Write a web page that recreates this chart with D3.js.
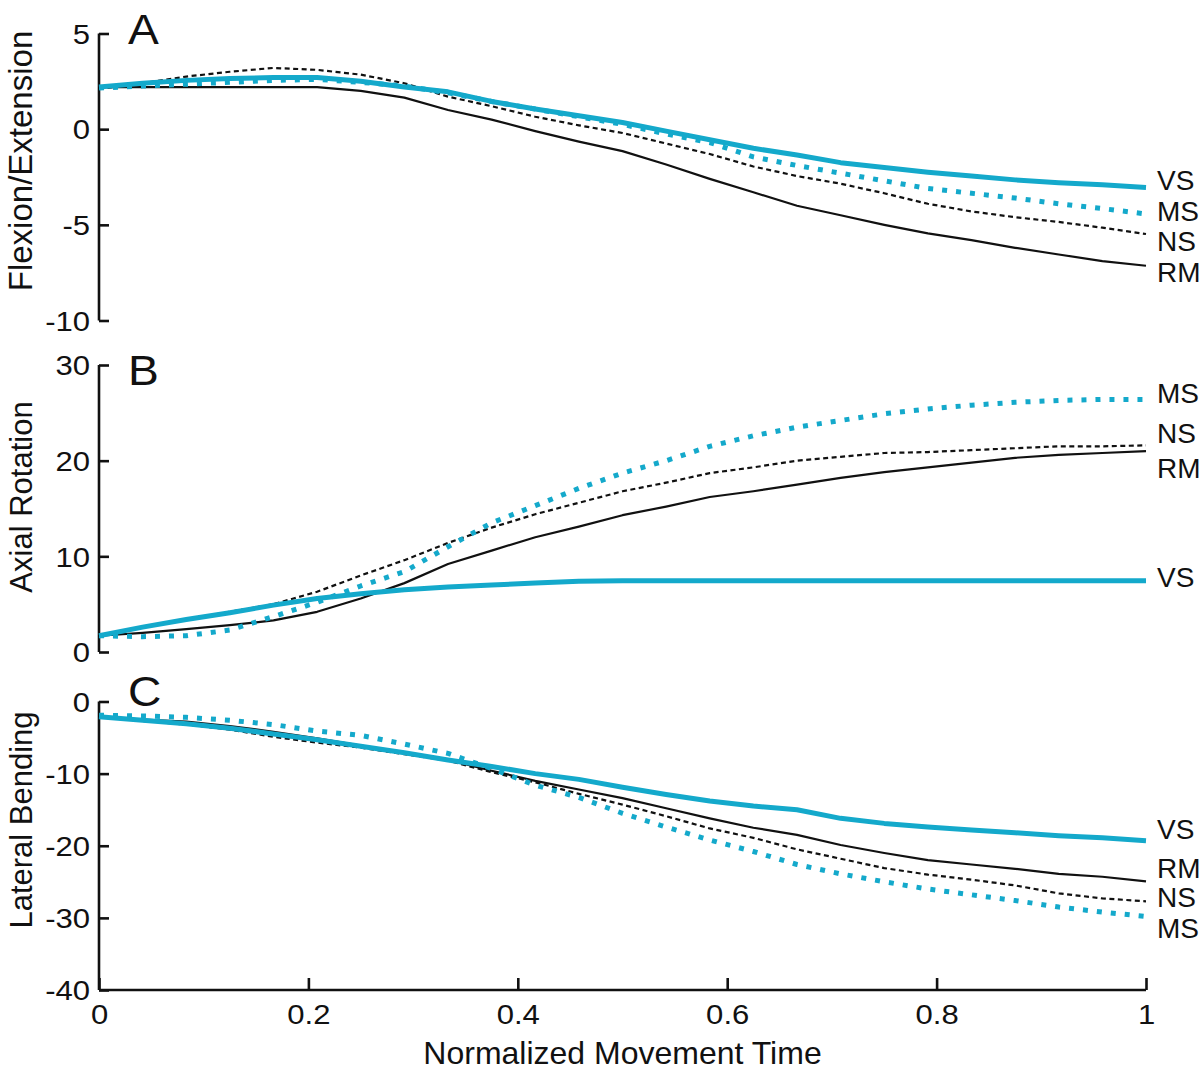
<!DOCTYPE html>
<html>
<head>
<meta charset="utf-8">
<script src="https://cdn.jsdelivr.net/npm/d3@7"></script>
<style>
  html, body { margin: 0; padding: 0; background: #fff; }
  svg { display: block; }
  text { font-family: "Liberation Sans", Arial, Helvetica, sans-serif; fill: #111; }
</style>
</head>
<body>
<svg id="chart" width="1200" height="1072"></svg>
<script>
// ---------------- DATA ----------------
const time = d3.range(25).map(i => i / 24); // normalized movement time samples
const seriesNames = ["VS", "MS", "NS", "RM"];

// Panel A: Flexion/Extension
const flexVS = [2.2, 2.4, 2.55, 2.65, 2.7, 2.7, 2.5, 2.2, 1.95, 1.45, 1.05, 0.7, 0.35, -0.1, -0.55, -1.0, -1.35, -1.75, -2.0, -2.25, -2.45, -2.65, -2.8, -2.9, -3.05];
const flexMS = [2.15, 2.25, 2.35, 2.45, 2.55, 2.6, 2.45, 2.25, 1.9, 1.45, 1.05, 0.65, 0.25, -0.25, -0.7, -1.45, -1.9, -2.3, -2.7, -3.1, -3.35, -3.6, -3.9, -4.15, -4.43];
const flexNS = [2.1, 2.4, 2.75, 3.0, 3.2, 3.1, 2.85, 2.4, 1.7, 1.2, 0.65, 0.2, -0.2, -0.75, -1.3, -1.95, -2.45, -2.85, -3.35, -3.9, -4.3, -4.6, -4.85, -5.15, -5.48];
const flexRM = [2.2, 2.2, 2.2, 2.2, 2.2, 2.2, 2.0, 1.65, 1.0, 0.5, -0.1, -0.65, -1.15, -1.85, -2.6, -3.3, -4.0, -4.5, -5.0, -5.45, -5.8, -6.2, -6.55, -6.9, -7.14];
const flexTicks = [-10, -5, 0, 5];
const flexLabelPos = { VS: -2.65, MS: -4.27, NS: -5.85, RM: -7.47 };

// Panel B: Axial Rotation
const axVS = [1.7, 2.6, 3.4, 4.1, 4.9, 5.6, 6.1, 6.5, 6.8, 7.0, 7.2, 7.4, 7.45, 7.45, 7.45, 7.45, 7.45, 7.45, 7.45, 7.45, 7.45, 7.45, 7.45, 7.45, 7.45];
const axMS = [1.7, 1.6, 1.7, 2.3, 3.7, 5.2, 6.9, 8.4, 11.0, 13.5, 15.3, 17.1, 18.7, 20.0, 21.5, 22.6, 23.5, 24.2, 24.9, 25.4, 25.8, 26.1, 26.3, 26.4, 26.4];
const axNS = [1.7, 2.6, 3.4, 4.2, 5.0, 6.3, 8.0, 9.6, 11.4, 13.0, 14.4, 15.6, 16.8, 17.7, 18.7, 19.3, 20.0, 20.4, 20.8, 20.9, 21.1, 21.3, 21.5, 21.5, 21.6];
const axRM = [1.7, 2.0, 2.4, 2.8, 3.3, 4.2, 5.6, 7.2, 9.2, 10.6, 12.0, 13.1, 14.3, 15.2, 16.2, 16.8, 17.5, 18.2, 18.8, 19.3, 19.8, 20.3, 20.6, 20.8, 21.0];
const axTicks = [0, 10, 20, 30];
const axLabelPos = { MS: 27.1, NS: 22.9, RM: 19.2, VS: 7.8 };

// Panel C: Lateral Bending
const latVS = [-2.1, -2.6, -3.1, -3.7, -4.5, -5.3, -6.2, -7.1, -8.1, -9.0, -10.0, -10.8, -11.9, -12.9, -13.8, -14.5, -15.0, -16.2, -16.9, -17.4, -17.8, -18.2, -18.6, -18.9, -19.3];
const latMS = [-1.9, -2.0, -2.2, -2.6, -3.2, -4.1, -4.7, -5.9, -7.2, -9.3, -11.6, -13.3, -15.5, -17.4, -19.2, -20.8, -22.6, -23.9, -25.0, -26.0, -26.8, -27.6, -28.5, -29.2, -29.8];
const latNS = [-2.2, -2.7, -3.2, -3.9, -4.9, -5.7, -6.4, -7.3, -8.2, -9.8, -11.2, -12.8, -14.3, -15.9, -17.6, -18.9, -20.5, -21.8, -23.1, -24.0, -24.7, -25.5, -26.6, -27.3, -27.7];
const latRM = [-2.1, -2.5, -2.8, -3.4, -4.2, -5.1, -6.1, -7.1, -8.1, -9.6, -11.0, -12.2, -13.4, -14.8, -16.2, -17.5, -18.5, -19.9, -21.0, -22.0, -22.6, -23.2, -23.9, -24.3, -24.95];
const latTicks = [-40, -30, -20, -10, 0];
const latLabelPos = { VS: -17.7, RM: -23.1, NS: -27.1, MS: -31.4 };

const xTicks = [0, 0.2, 0.4, 0.6, 0.8, 1];
const xTitle = "Normalized Movement Time";

// ---------------- STYLE ----------------
const CYAN = "#14a9cb";
const styles = {
  VS: { stroke: CYAN, width: 5, dash: null },
  MS: { stroke: CYAN, width: 5, dash: "5,9" },
  NS: { stroke: "#111", width: 2.2, dash: "5,3.5" },
  RM: { stroke: "#111", width: 2.2, dash: null }
};

const panels = [
  { letter: "A", title: "Flexion/Extension", domain: [-10, 5], range: [320.5, 33.5], ticks: flexTicks,
    data: { VS: flexVS, MS: flexMS, NS: flexNS, RM: flexRM }, labels: flexLabelPos, letterY: 44, titleY: 161, titleSize: 33 },
  { letter: "B", title: "Axial Rotation", domain: [0, 30], range: [652, 365], ticks: axTicks,
    data: { VS: axVS, MS: axMS, NS: axNS, RM: axRM }, labels: axLabelPos, letterY: 385, titleY: 497, titleSize: 31 },
  { letter: "C", title: "Lateral Bending", domain: [-40, 0], range: [990, 701.5], ticks: latTicks,
    data: { VS: latVS, MS: latMS, NS: latNS, RM: latRM }, labels: latLabelPos, letterY: 706, titleY: 820, titleSize: 31 }
];

// ---------------- DRAW ----------------
const svg = d3.select("#chart");
const x = d3.scaleLinear().domain([0, 1]).range([99, 1146]);
const TICK_SX = 1.15;
const fmt = d => String(d);

panels.forEach((p, pi) => {
  const y = d3.scaleLinear().domain(p.domain).range(p.range);
  const g = svg.append("g");

  // y axis (ticks pointing inward)
  const yAxis = d3.axisRight(y).tickValues(p.ticks).tickSize(10).tickFormat(fmt);
  const ya = g.append("g").attr("transform", `translate(${x(0)},0)`).call(yAxis);
  ya.select(".domain").attr("d", `M0,${y(p.domain[0])}V${y(p.domain[1])}`).attr("stroke", "#111").attr("stroke-width", 2.6);
  ya.selectAll(".tick line").attr("stroke", "#111").attr("stroke-width", 2.6);
  ya.selectAll(".tick text")
    .attr("x", null).attr("dy", "0.36em")
    .attr("text-anchor", "end")
    .attr("transform", `translate(-9,0) scale(${TICK_SX},1)`)
    .style("font-size", "27px")
    .style("font-family", "'Liberation Sans', Arial, sans-serif")
    .attr("fill", "#111");

  // y title
  g.append("text")
    .attr("transform", `translate(32,${p.titleY}) rotate(-90)`)
    .attr("text-anchor", "middle")
    .style("font-size", p.titleSize + "px")
    .text(p.title);

  // panel letter
  g.append("text")
    .attr("x", 128).attr("y", p.letterY)
    .attr("transform", `translate(128,${p.letterY}) scale(1.1,1) translate(-128,${-p.letterY})`)
    .style("font-size", "42px")
    .text(p.letter);

  // series lines
  const line = d3.line().x((d, i) => x(time[i])).y(d => y(d));
  ["RM", "NS", "MS", "VS"].forEach(name => {
    const s = styles[name];
    g.append("path")
      .datum(p.data[name])
      .attr("d", line)
      .attr("fill", "none")
      .attr("stroke", s.stroke)
      .attr("stroke-width", s.width)
      .attr("stroke-dasharray", s.dash)
      .attr("stroke-linejoin", "round");
  });

  // end labels
  seriesNames.forEach(name => {
    g.append("text")
      .attr("x", 1157).attr("y", y(p.labels[name]))
      .attr("dy", "0.36em")
      .style("font-size", "28px")
      .text(name);
  });

  // x axis only on the bottom panel
  if (pi === panels.length - 1) {
    const xAxis = d3.axisTop(x).tickValues(xTicks).tickSize(12).tickFormat(fmt);
    const xa = g.append("g").attr("transform", `translate(0,${y(p.domain[0])})`).call(xAxis);
    xa.select(".domain").attr("d", `M${x(0)},0H${x(1)}`).attr("stroke", "#111").attr("stroke-width", 2.6);
    xa.selectAll(".tick line").attr("stroke", "#111").attr("stroke-width", 2.6);
    xa.selectAll(".tick text")
      .attr("y", null).attr("dy", null)
      .attr("text-anchor", "middle")
      .attr("transform", `translate(0,34) scale(${TICK_SX},1)`)
      .style("font-size", "27px")
      .style("font-family", "'Liberation Sans', Arial, sans-serif")
      .attr("fill", "#111");
    g.append("text")
      .attr("x", (x(0) + x(1)) / 2).attr("y", 1064)
      .attr("text-anchor", "middle")
      .style("font-size", "32px")
      .text(xTitle);
  }
});
</script>
</body>
</html>
